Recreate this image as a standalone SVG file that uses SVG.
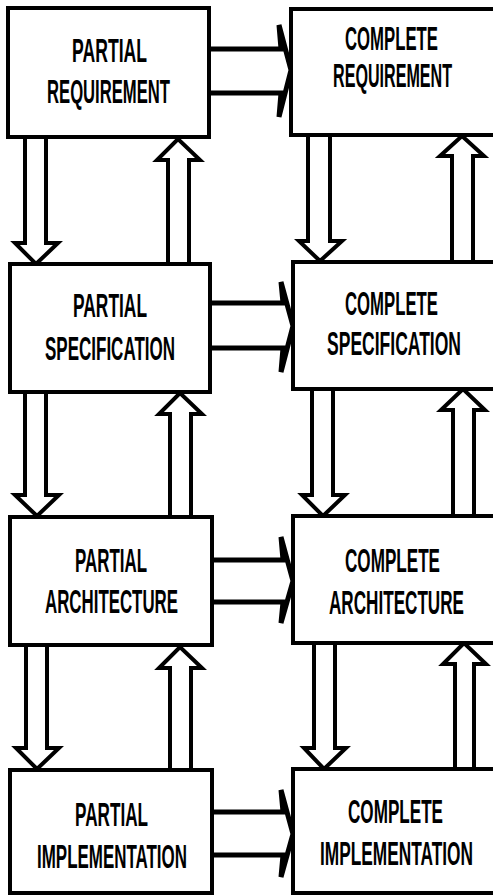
<svg xmlns="http://www.w3.org/2000/svg" width="493" height="896" viewBox="0 0 493 896">
<style>
.box{fill:#fff;stroke:#000;stroke-width:4}
.lbl{font-family:"Liberation Sans",Arial,sans-serif;font-weight:bold;font-size:34px;fill:#000;text-anchor:middle}
.ha{fill:none;stroke:#000;stroke-width:5;stroke-linejoin:miter;stroke-miterlimit:10}
.va{fill:none;stroke:#000;stroke-width:4;stroke-linejoin:miter}
</style>
<rect width="493" height="896" fill="#fff"/>
<g id="connectors">
  <polyline class="ha" points="210,49 281,49 279,25 291,70 279,117 281,93 210,93"/>
  <polyline class="ha" points="211,303 283,303 281,282 293,326 281,372 283,348 211,348"/>
  <polyline class="ha" points="213,560 283,560 281,537 293,581 281,623 283,602 213,602"/>
  <polyline class="ha" points="213,812 283,812 281,790 293,834 281,877 283,855 213,855"/>
  <polyline class="va" points="25,138 25,243 15,243 36,264 58,243 46,243 46,138"/>
  <polyline class="va" points="168,264 168,160 157,160 178,139 200,160 189,160 189,264"/>
  <polyline class="va" points="25,393 25,495 15,495 37,516 59,495 46,495 46,393"/>
  <polyline class="va" points="170,516 170,414 159,414 180,393 202,414 191,414 191,516"/>
  <polyline class="va" points="26,646 26,748 16,748 37,769 59,748 47,748 47,646"/>
  <polyline class="va" points="170,769 170,668 159,668 180,647 202,668 191,668 191,769"/>
  <polyline class="va" points="308,136 308,241 299,241 320,261 342,241 330,241 330,136"/>
  <polyline class="va" points="452,261 452,156 440,156 462,136 484,156 473,156 473,261"/>
  <polyline class="va" points="312,389 312,495 302,495 323,516 345,495 333,495 333,389"/>
  <polyline class="va" points="453,516 453,410 441,410 463,389 485,410 474,410 474,516"/>
  <polyline class="va" points="314,643 314,748 304,748 324,769 346,748 335,748 335,643"/>
  <polyline class="va" points="455,769 455,664 443,664 464,643 486,664 474,664 474,769"/>
</g>
<g id="partial-requirement">
  <rect class="box" x="8" y="8" width="201" height="129"/>
  <text class="lbl" transform="translate(109.5,62) scale(0.5,1)" textLength="150" lengthAdjust="spacingAndGlyphs">PARTIAL</text>
  <text class="lbl" transform="translate(108.5,103) scale(0.5,1)" textLength="246" lengthAdjust="spacingAndGlyphs">REQUIREMENT</text>
</g>
<g id="complete-requirement">
  <rect class="box" x="291" y="9" width="240" height="126"/>
  <text class="lbl" transform="translate(391.5,50) scale(0.5,1)" textLength="186" lengthAdjust="spacingAndGlyphs">COMPLETE</text>
  <text class="lbl" transform="translate(392.5,87) scale(0.5,1)" textLength="238" lengthAdjust="spacingAndGlyphs">REQUIREMENT</text>
</g>
<g id="partial-specification">
  <rect class="box" x="10" y="264" width="200" height="128"/>
  <text class="lbl" transform="translate(110,317) scale(0.5,1)" textLength="148" lengthAdjust="spacingAndGlyphs">PARTIAL</text>
  <text class="lbl" transform="translate(110,360) scale(0.5,1)" textLength="260" lengthAdjust="spacingAndGlyphs">SPECIFICATION</text>
</g>
<g id="complete-specification">
  <rect class="box" x="293" y="262" width="240" height="127"/>
  <text class="lbl" transform="translate(391.5,315) scale(0.5,1)" textLength="186" lengthAdjust="spacingAndGlyphs">COMPLETE</text>
  <text class="lbl" transform="translate(394,355) scale(0.5,1)" textLength="268" lengthAdjust="spacingAndGlyphs">SPECIFICATION</text>
</g>
<g id="partial-architecture">
  <rect class="box" x="10" y="517" width="202" height="128"/>
  <text class="lbl" transform="translate(111,572) scale(0.5,1)" textLength="144" lengthAdjust="spacingAndGlyphs">PARTIAL</text>
  <text class="lbl" transform="translate(111.5,613) scale(0.5,1)" textLength="266" lengthAdjust="spacingAndGlyphs">ARCHITECTURE</text>
</g>
<g id="complete-architecture">
  <rect class="box" x="293" y="516" width="240" height="127"/>
  <text class="lbl" transform="translate(392.5,572) scale(0.5,1)" textLength="190" lengthAdjust="spacingAndGlyphs">COMPLETE</text>
  <text class="lbl" transform="translate(396.5,614) scale(0.5,1)" textLength="270" lengthAdjust="spacingAndGlyphs">ARCHITECTURE</text>
</g>
<g id="partial-implementation">
  <rect class="box" x="10" y="770" width="202" height="123"/>
  <text class="lbl" transform="translate(111.5,826) scale(0.5,1)" textLength="146" lengthAdjust="spacingAndGlyphs">PARTIAL</text>
  <text class="lbl" transform="translate(112,868) scale(0.5,1)" textLength="300" lengthAdjust="spacingAndGlyphs">IMPLEMENTATION</text>
</g>
<g id="complete-implementation">
  <rect class="box" x="293" y="769" width="240" height="124"/>
  <text class="lbl" transform="translate(395.5,823) scale(0.5,1)" textLength="190" lengthAdjust="spacingAndGlyphs">COMPLETE</text>
  <text class="lbl" transform="translate(396.5,865) scale(0.5,1)" textLength="306" lengthAdjust="spacingAndGlyphs">IMPLEMENTATION</text>
</g>
</svg>
